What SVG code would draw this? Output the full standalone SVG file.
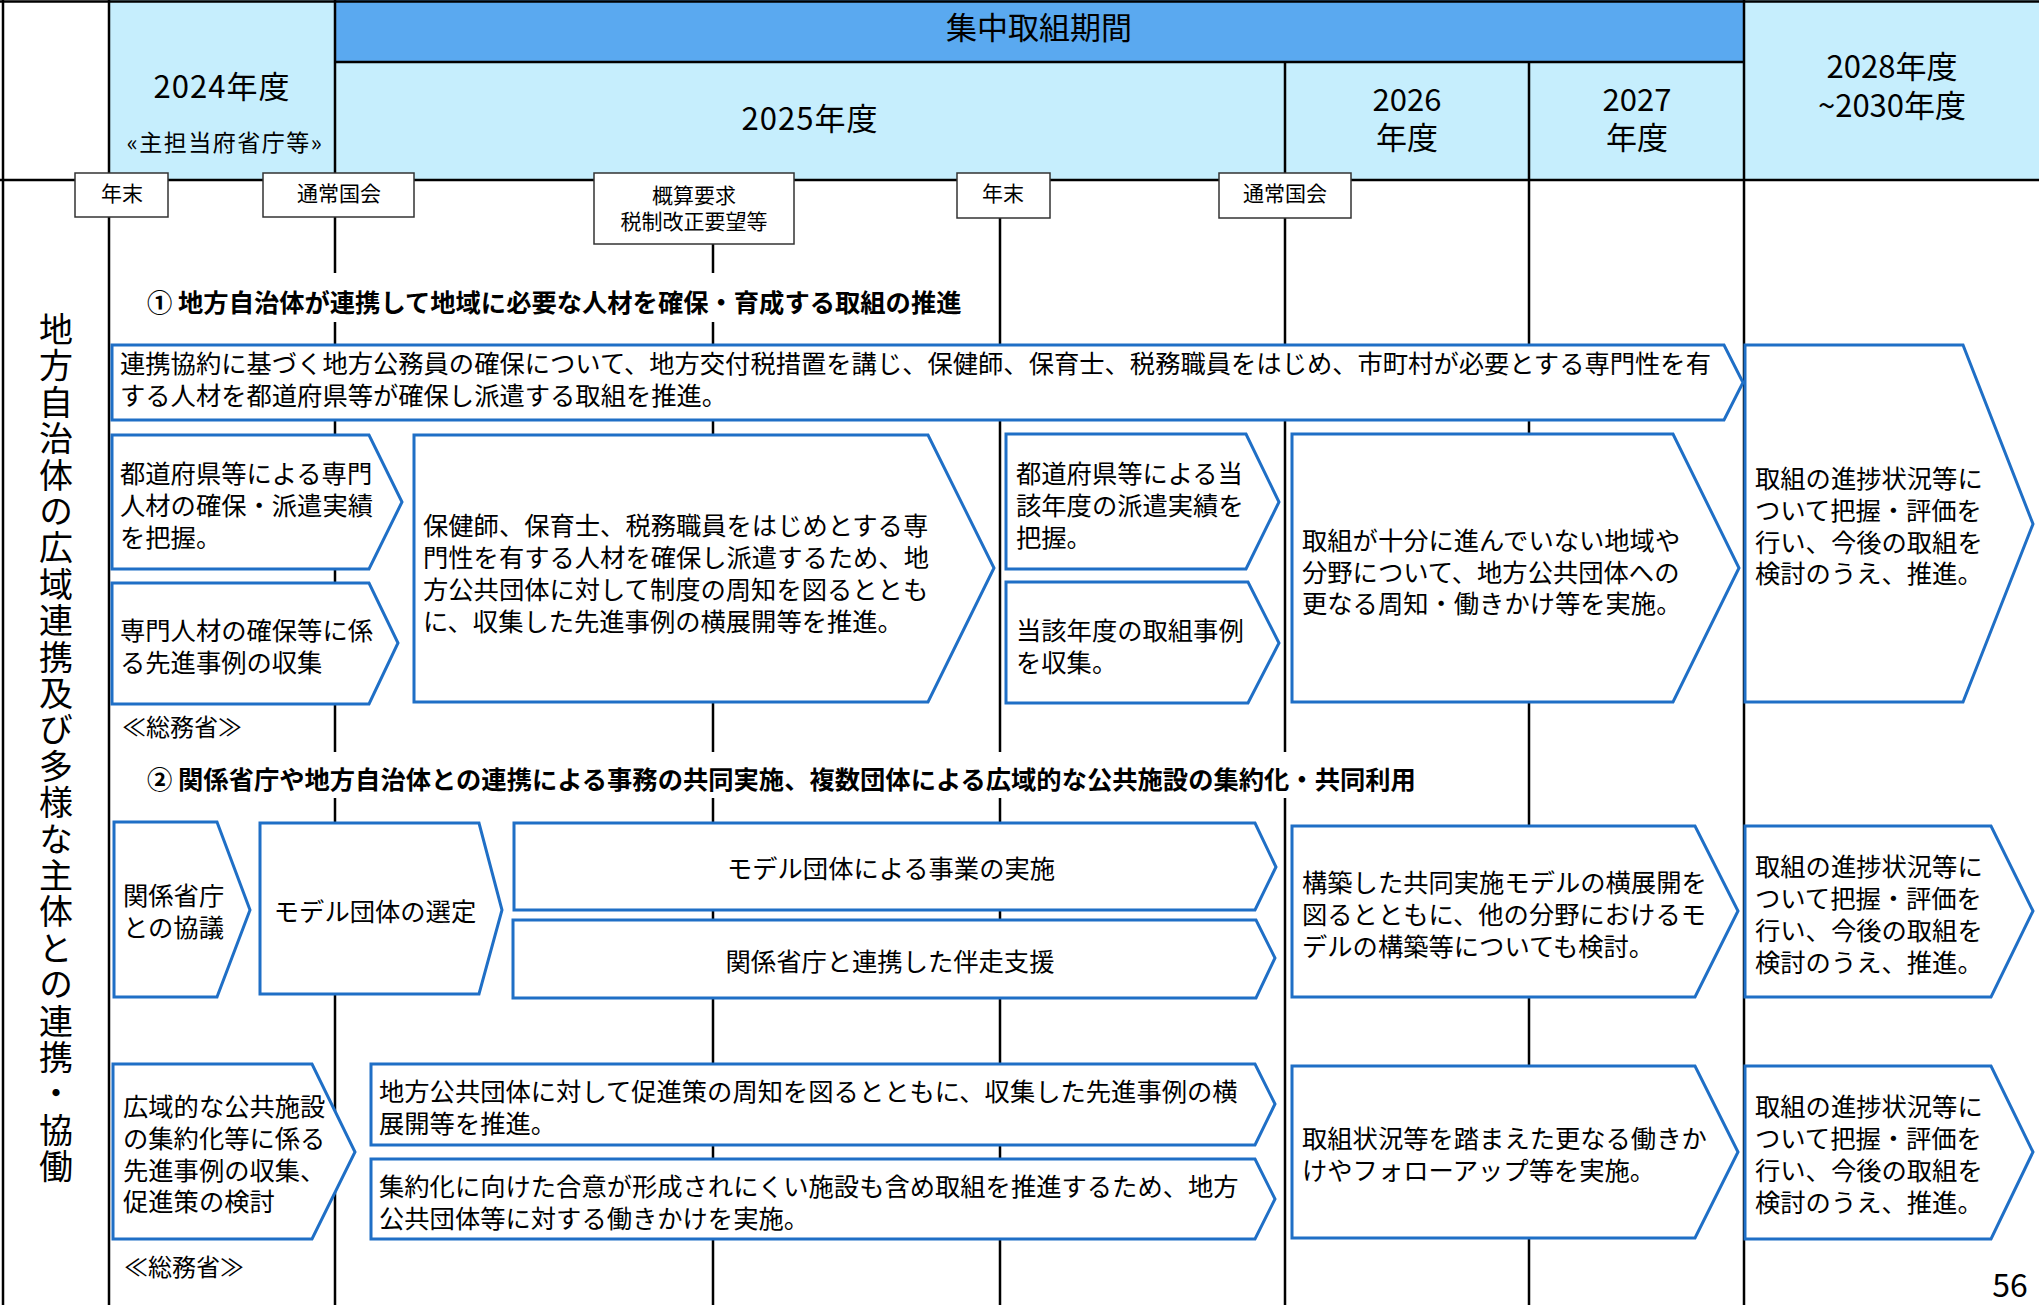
<svg xmlns="http://www.w3.org/2000/svg" width="2039" height="1305" viewBox="0 0 2039 1305">
<defs>
<style>
.ln{stroke:#000;stroke-width:2.5;fill:none}
.bx{fill:#fff;stroke:#1F6FC6;stroke-width:3;stroke-linejoin:miter}
.ms{fill:#fff;stroke:#333;stroke-width:1.5}
text{font-family:"Noto Sans CJK JP","Noto Sans",sans-serif;fill:#000}
.t{font-size:25.3px}
.h{font-size:25.3px;font-weight:700}
.s{font-size:21px}
.y{font-size:31px}
.c{text-anchor:middle}
.n{font-size:24px}
</style>
</defs>
<rect width="2039" height="1305" fill="#fff"/>
<g id="header">
<rect x="335" y="0" width="1409" height="62" fill="#5AA9F0"/>
<rect x="109" y="0" width="226" height="180" fill="#C6EEFD"/>
<rect x="335" y="62" width="1409" height="118" fill="#C6EEFD"/>
<rect x="1744" y="0" width="295" height="180" fill="#C6EEFD"/>
<text class="y c" x="1039" y="39">集中取組期間</text>
<text class="y c" x="222" y="98" style="letter-spacing:1px">2024年度</text>
<text class="c" x="225" y="151" font-size="23" style="letter-spacing:1.5px">«主担当府省庁等»</text>
<text class="y c" x="810" y="130" style="letter-spacing:1px">2025年度</text>
<text class="y c" x="1407" y="111">2026</text>
<text class="y c" x="1407" y="149">年度</text>
<text class="y c" x="1637" y="111">2027</text>
<text class="y c" x="1637" y="149">年度</text>
<text class="y c" x="1892" y="78">2028年度</text>
<text class="y c" x="1892" y="117">~2030年度</text>
</g>
<g id="grid">
<line class="ln" x1="0" y1="1.5" x2="2039" y2="1.5"/>
<line class="ln" x1="335" y1="62" x2="1744" y2="62"/>
<line class="ln" x1="0" y1="180" x2="2039" y2="180"/>
<line class="ln" x1="3" y1="0" x2="3" y2="1305"/>
<line class="ln" x1="109" y1="0" x2="109" y2="1305"/>
<line class="ln" x1="335" y1="0" x2="335" y2="1305"/>
<line class="ln" x1="713" y1="180" x2="713" y2="1305"/>
<line class="ln" x1="1000" y1="180" x2="1000" y2="1305"/>
<line class="ln" x1="1285" y1="62" x2="1285" y2="1305"/>
<line class="ln" x1="1529" y1="62" x2="1529" y2="1305"/>
<line class="ln" x1="1744" y1="0" x2="1744" y2="1305"/>
</g>
<g id="title">
<text x="56" y="312" font-size="34" style="writing-mode:vertical-rl;letter-spacing:2.4px">地方自治体の広域連携及び多様な主体との連携・協働</text>
</g>
<g id="milestones">
<g id="m1"><rect class="ms" x="75" y="173" width="93" height="44"/><text class="s c" x="122" y="201">年末</text></g>
<g id="m2"><rect class="ms" x="263" y="173" width="151" height="44"/><text class="s c" x="339" y="201">通常国会</text></g>
<g id="m3"><rect class="ms" x="594" y="173" width="200" height="71"/><text class="s c" x="694" y="203">概算要求</text><text class="s c" x="694" y="229">税制改正要望等</text></g>
<g id="m4"><rect class="ms" x="957" y="173" width="93" height="45"/><text class="s c" x="1003" y="201">年末</text></g>
<g id="m5"><rect class="ms" x="1219" y="173" width="132" height="45"/><text class="s c" x="1285" y="201">通常国会</text></g>
</g>
<g id="section1">
<rect x="140" y="273" width="836" height="49" fill="#fff"/>
<text class="h" x="147" y="312">① 地方自治体が連携して地域に必要な人材を確保・育成する取組の推進</text>
</g>
<g id="section2">
<rect x="140" y="752" width="1290" height="46" fill="#fff"/>
<text class="h" x="147" y="789">② 関係省庁や地方自治体との連携による事務の共同実施、複数団体による広域的な公共施設の集約化・共同利用</text>
</g>
<g id="boxA"><polygon class="bx" points="112,345 1724,345 1743,382.5 1724,420 112,420"/>
<text class="t" x="120" y="373">連携協約に基づく地方公務員の確保について、地方交付税措置を講じ、保健師、保育士、税務職員をはじめ、市町村が必要とする専門性を有</text>
<text class="t" x="120" y="405">する人材を都道府県等が確保し派遣する取組を推進。</text></g>
<g id="boxB1"><polygon class="bx" points="112,435 369,435 402,502 369,569 112,569"/>
<text class="t" x="120" y="483">都道府県等による専門</text>
<text class="t" x="120" y="515">人材の確保・派遣実績</text>
<text class="t" x="120" y="547">を把握。</text></g>
<g id="boxB2"><polygon class="bx" points="112,583 369,583 398,643 369,704 112,704"/>
<text class="t" x="120" y="640">専門人材の確保等に係</text>
<text class="t" x="120" y="672">る先進事例の収集</text></g>
<text id="note1" class="n" x="122" y="736">≪総務省≫</text>
<g id="boxC"><polygon class="bx" points="414,435 928,435 994,568 928,702 414,702"/>
<text class="t" x="423" y="535">保健師、保育士、税務職員をはじめとする専</text>
<text class="t" x="423" y="567">門性を有する人材を確保し派遣するため、地</text>
<text class="t" x="423" y="599">方公共団体に対して制度の周知を図るととも</text>
<text class="t" x="423" y="631">に、収集した先進事例の横展開等を推進。</text></g>
<g id="boxD1"><polygon class="bx" points="1006,434 1246,434 1279,502 1246,569 1006,569"/>
<text class="t" x="1016" y="483">都道府県等による当</text>
<text class="t" x="1016" y="515">該年度の派遣実績を</text>
<text class="t" x="1016" y="547">把握。</text></g>
<g id="boxD2"><polygon class="bx" points="1006,582 1248,582 1279,643 1248,703 1006,703"/>
<text class="t" x="1016" y="640">当該年度の取組事例</text>
<text class="t" x="1016" y="672">を収集。</text></g>
<g id="boxE"><polygon class="bx" points="1292,434 1673,434 1739,568 1673,702 1292,702"/>
<text class="t" x="1302" y="550">取組が十分に進んでいない地域や</text>
<text class="t" x="1302" y="582">分野について、地方公共団体への</text>
<text class="t" x="1302" y="613">更なる周知・働きかけ等を実施。</text></g>
<g id="boxF"><polygon class="bx" points="1745,345 1963,345 2033,524 1963,702 1745,702"/>
<text class="t" x="1755" y="488">取組の進捗状況等に</text>
<text class="t" x="1755" y="520">ついて把握・評価を</text>
<text class="t" x="1755" y="552">行い、今後の取組を</text>
<text class="t" x="1755" y="583">検討のうえ、推進。</text></g>
<g id="boxG1"><polygon class="bx" points="114,822 217,822 250,910 217,997 114,997"/>
<text class="t" x="123" y="905">関係省庁</text>
<text class="t" x="123" y="937">との協議</text></g>
<g id="boxG2"><polygon class="bx" points="260,823 479,823 502,910 479,994 260,994"/>
<text class="t c" x="375" y="921">モデル団体の選定</text></g>
<g id="boxH1"><polygon class="bx" points="514,823 1255,823 1276,867 1255,910 514,910"/>
<text class="t c" x="891" y="878">モデル団体による事業の実施</text></g>
<g id="boxH2"><polygon class="bx" points="513,920 1256,920 1275,958 1256,998 513,998"/>
<text class="t c" x="890" y="971">関係省庁と連携した伴走支援</text></g>
<g id="boxI"><polygon class="bx" points="1292,826 1695,826 1738,911 1695,997 1292,997"/>
<text class="t" x="1302" y="892">構築した共同実施モデルの横展開を</text>
<text class="t" x="1302" y="924">図るとともに、他の分野におけるモ</text>
<text class="t" x="1302" y="956">デルの構築等についても検討。</text></g>
<g id="boxJ"><polygon class="bx" points="1745,826 1991,826 2033,911 1991,997 1745,997"/>
<text class="t" x="1755" y="876">取組の進捗状況等に</text>
<text class="t" x="1755" y="908">ついて把握・評価を</text>
<text class="t" x="1755" y="940">行い、今後の取組を</text>
<text class="t" x="1755" y="972">検討のうえ、推進。</text></g>
<g id="boxK"><polygon class="bx" points="113,1064 312,1064 355,1152 312,1239 113,1239"/>
<text class="t" x="123" y="1116">広域的な公共施設</text>
<text class="t" x="123" y="1148">の集約化等に係る</text>
<text class="t" x="123" y="1180">先進事例の収集、</text>
<text class="t" x="123" y="1211">促進策の検討</text></g>
<text id="note2" class="n" x="124" y="1276">≪総務省≫</text>
<g id="boxL1"><polygon class="bx" points="371,1064 1255,1064 1275,1104 1255,1145 371,1145"/>
<text class="t" x="379" y="1101">地方公共団体に対して促進策の周知を図るとともに、収集した先進事例の横</text>
<text class="t" x="379" y="1133">展開等を推進。</text></g>
<g id="boxL2"><polygon class="bx" points="371,1159 1255,1159 1275,1199 1255,1239 371,1239"/>
<text class="t" x="379" y="1196">集約化に向けた合意が形成されにくい施設も含め取組を推進するため、地方</text>
<text class="t" x="379" y="1228">公共団体等に対する働きかけを実施。</text></g>
<g id="boxM"><polygon class="bx" points="1292,1066 1695,1066 1738,1152 1695,1238 1292,1238"/>
<text class="t" x="1302" y="1148">取組状況等を踏まえた更なる働きか</text>
<text class="t" x="1302" y="1180">けやフォローアップ等を実施。</text></g>
<g id="boxN"><polygon class="bx" points="1745,1066 1991,1066 2033,1152 1991,1239 1745,1239"/>
<text class="t" x="1755" y="1116">取組の進捗状況等に</text>
<text class="t" x="1755" y="1148">ついて把握・評価を</text>
<text class="t" x="1755" y="1180">行い、今後の取組を</text>
<text class="t" x="1755" y="1212">検討のうえ、推進。</text></g>
<text id="page" x="2010" y="1297" font-size="32" text-anchor="middle">56</text>
</svg>
